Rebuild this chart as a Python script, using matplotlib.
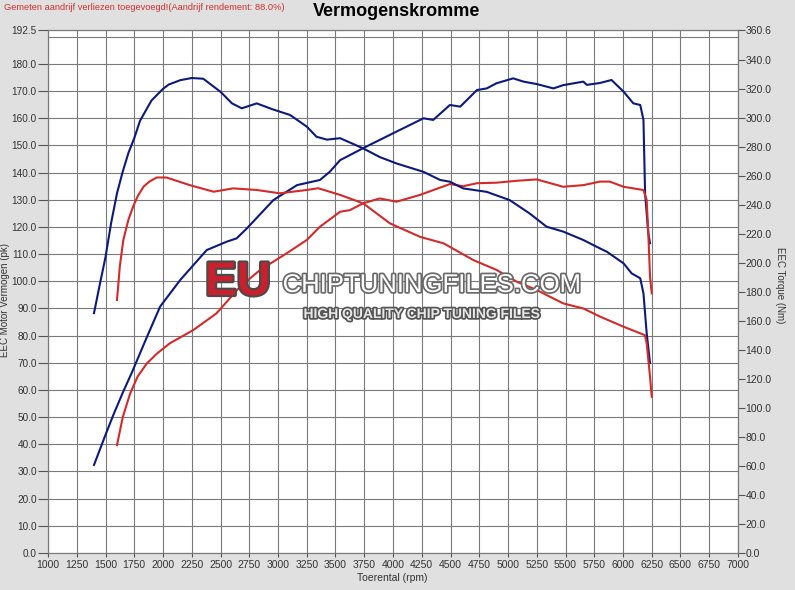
import matplotlib
matplotlib.use("Agg")
from matplotlib import pyplot as plt
import matplotlib.patheffects as pe

# tuned power (pk)
tuned_pk_rpm = [1400, 1500, 1570, 1650, 1730, 1850, 1975, 2150, 2380, 2555, 2640, 2730,
                2960, 3165, 3365, 3450, 3540, 3600, 3740, 4030, 4265, 4350, 4495, 4585,
                4730, 4815, 4900, 5045, 5135, 5250, 5395, 5480, 5655, 5685, 5800, 5900,
                6005, 6090, 6150, 6178, 6192, 6220, 6235]
tuned_pk = [32.4, 43.5, 51.0, 59.0, 66.5, 78.5, 90.7, 100.5, 111.5, 114.6, 115.8, 119.5,
            129.9, 135.4, 137.3, 140.3, 144.6, 145.9, 149.0, 155.1, 160.0, 159.4, 164.9, 164.3,
            170.4, 171.0, 172.9, 174.7, 173.5, 172.6, 171.0, 172.2, 173.5, 172.3, 173.0, 174.1,
            169.8, 165.5, 164.9, 159.4, 132.4, 117.7, 114.0]

# stock power (pk)
stock_pk_rpm = [1600, 1650, 1715, 1780, 1860, 1950, 2060, 2265, 2465, 2670, 2845, 3075,
                3250, 3365, 3540, 3625, 3740, 3885, 4030, 4235, 4495, 4610, 4730, 4900,
                5075, 5250, 5480, 5655, 5800, 5885, 6005, 6178, 6206, 6220, 6235, 6250]
stock_pk = [39.7, 50.0, 58.8, 65.0, 69.8, 73.5, 77.2, 82.1, 88.2, 98.0, 104.2, 110.3,
            115.2, 120.1, 125.6, 126.2, 128.7, 130.5, 129.3, 131.8, 135.8, 135.0, 136.1, 136.3,
            137.0, 137.5, 134.8, 135.4, 136.7, 136.7, 134.8, 133.6, 129.9, 117.7, 101.7, 95.6]

# tuned torque (Nm)
tuned_nm_rpm = [1400, 1450, 1500, 1550, 1600, 1650, 1700, 1750, 1800, 1900, 2000, 2050,
                2150, 2250, 2350, 2500, 2600, 2685, 2815, 2950, 3105, 3250, 3335, 3425,
                3540, 3740, 3885, 4030, 4265, 4410, 4495, 4610, 4815, 5015, 5190, 5335,
                5480, 5655, 5800, 5860, 6005, 6075, 6150, 6178, 6206, 6235]
tuned_nm = [165.4, 185.0, 204.0, 228.0, 248.0, 263.0, 276.0, 286.0, 298.0, 312.0, 320.0, 323.0,
            326.0, 327.5, 327.0, 318.0, 310.0, 306.6, 310.0, 306.0, 302.0, 294.0, 287.0, 285.0,
            286.0, 279.0, 273.0, 268.6, 262.8, 257.2, 256.0, 251.4, 249.0, 243.3, 234.0, 225.0,
            221.6, 215.8, 210.0, 207.7, 199.7, 192.8, 189.4, 179.0, 151.5, 131.0]

# stock torque (Nm)
stock_nm_rpm = [1600, 1625, 1655, 1700, 1740, 1780, 1830, 1880, 1945, 2030, 2235, 2440,
                2610, 2815, 3015, 3250, 3350, 3540, 3740, 3975, 4235, 4440, 4700, 4900,
                5075, 5250, 5480, 5655, 5800, 6005, 6190, 6206, 6235, 6250]
stock_nm = [174.4, 198.0, 215.8, 230.0, 238.8, 246.0, 252.5, 256.0, 258.9, 258.9, 253.6, 249.1,
            251.4, 250.3, 248.0, 250.3, 251.5, 246.9, 241.1, 227.2, 218.0, 213.5, 201.9, 195.2,
            187.1, 181.3, 172.1, 168.6, 163.0, 156.0, 150.2, 144.6, 121.6, 107.7]

x_ticks = list(range(1000, 7001, 250))
pk_ticks = [v * 10 for v in range(19)] + [192.5]
nm_ticks = [v * 20 for v in range(18)] + [360.6]

BLUE = "#0c1a7e"
RED = "#d42a2a"
GRID = "#7a7a7a"

plt.rcParams["font.family"] = ["Liberation Sans", "DejaVu Sans"]

fig = plt.figure(figsize=(7.95, 5.9), dpi=100, facecolor="#e0e0e0")
ax = fig.add_axes([48 / 795, 37 / 590, 690 / 795, 523 / 590])
ax.set_facecolor("white")
ax2 = ax.twinx()

ax.plot(tuned_pk_rpm, tuned_pk, color=BLUE, lw=1.5, zorder=3)
ax.plot(stock_pk_rpm, stock_pk, color=RED, lw=1.5, zorder=3)
ax2.plot(tuned_nm_rpm, tuned_nm, color=BLUE, lw=1.5)
ax2.plot(stock_nm_rpm, stock_nm, color=RED, lw=1.5)

ax.set_xlim(1000, 7000)
ax.set_ylim(0, 192.5)
ax2.set_ylim(0, 360.6)

ax.set_xticks(x_ticks)
ax.set_xticklabels([str(t) for t in x_ticks])
ax.set_yticks(pk_ticks)
ax.set_yticklabels([f"{t:.1f}" for t in pk_ticks])
ax2.set_yticks(nm_ticks)
ax2.set_yticklabels([f"{t:.1f}" for t in nm_ticks])

ax.grid(True, color=GRID, lw=0.8)
ax.axhline(190, color=GRID, lw=0.8, zorder=0.5)
ax.set_axisbelow(True)
for a in (ax, ax2):
    for s in a.spines.values():
        s.set_color(GRID)
        s.set_linewidth(0.8)

ax.tick_params(axis="y", length=7, width=0.8, color="#555555", labelsize=7.2,
               labelcolor="#333333", pad=1)
ax.tick_params(axis="x", length=3, width=0.8, color="#555555", labelsize=7.5,
               labelcolor="#333333", pad=2)
ax2.tick_params(axis="y", length=5, width=0.8, color="#555555", labelsize=7.5,
                labelcolor="#333333", pad=0.5)

fig.text(392 / 795, 1 - 578 / 590, "Toerental (rpm)", ha="center", va="center",
         fontsize=7.5, color="#333333")
fig.text(5 / 795, 1 - 300 / 590, "EEC Motor Vermogen (pk)", rotation=90,
         ha="center", va="center", fontsize=7, color="#333333")
fig.text(780 / 795, 1 - 285 / 590, "EEC Torque (Nm)", rotation=270,
         ha="center", va="center", fontsize=7, color="#333333")

fig.text(397 / 795, 1 - 12 / 590, "Vermogenskromme", ha="center", va="center",
         fontsize=13, fontweight="bold", color="black")
fig.text(4 / 795, 1 - 8 / 590,
         "Gemeten aandrijf verliezen toegevoegd!(Aandrijf rendement: 88.0%)",
         ha="left", va="center", fontsize=6.65, color="#d03030")

# watermark
fig.text(238 / 795, 1 - 283 / 590, "EU", ha="center", va="center", fontsize=34,
         fontweight="bold", color="#c8202c", zorder=10,
         path_effects=[pe.withStroke(linewidth=3, foreground="#4a4a4a")])
fig.text(432 / 795, 1 - 285 / 590, "CHIPTUNINGFILES.COM", ha="center", va="center",
         fontsize=18.5, color="white", zorder=10,
         path_effects=[pe.withStroke(linewidth=2.5, foreground="#6a6a6a")])
fig.text(421 / 795, 1 - 314 / 590, "HIGH QUALITY CHIP TUNING FILES", ha="center",
         va="center", fontsize=10, fontweight="bold", color="#e8e8e8", zorder=10,
         path_effects=[pe.withStroke(linewidth=2.5, foreground="#555555")])

fig.savefig("out.png", dpi=100, facecolor=fig.get_facecolor())
